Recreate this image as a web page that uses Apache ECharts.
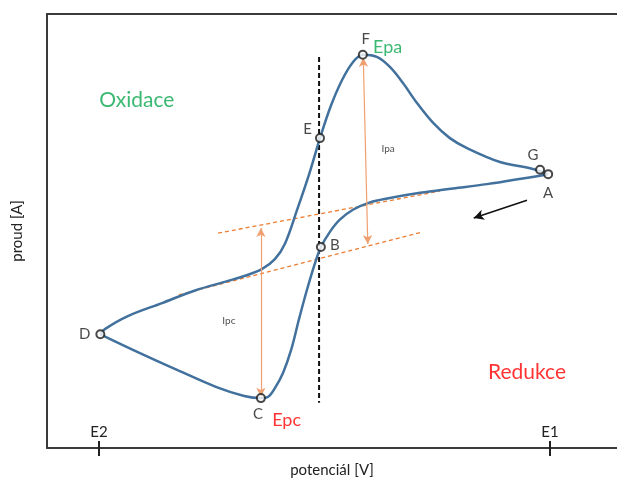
<!DOCTYPE html>
<html>
<head>
<meta charset="utf-8">
<script src="https://cdn.jsdelivr.net/npm/echarts@6/dist/echarts.min.js"></script>
<style>
html,body{margin:0;padding:0;background:#fff;}
#chart{width:617px;height:479px;}
</style>
</head>
<body>
<div id="chart"></div>
<script>
// Potential in relative units (E2 = 0, E1 = 100), current in relative units (0..100)
const xTickValues = [0, 100];
const xTickLabels = ['E2', 'E1'];

// reverse (cathodic) scan: A -> B -> C -> D
const lowerBranch = [
  [99.6,63.1],[86.0,60.8],[78.5,59.8],[71.2,58.8],[63.9,57.5],[60.1,56.6],
  [56.3,54.9],[53.4,52.6],[51.2,49.8],[49.2,46.3],[47.9,42.6],[46.1,36.4],[44.3,29.5],
  [42.6,22.6],[40.8,17.3],[39.0,13.8],[37.5,11.8],[35.9,11.5],[32.2,12.0],[25.9,14.1],
  [17.3,18.0],[8.6,22.1],[0.3,26.2]
];
// forward (anodic) scan: D -> E -> F -> G -> A
const upperBranch = [
  [0.3,26.2],[1.3,27.4],[6.4,30.4],[14.0,33.4],[21.3,36.3],[28.6,38.5],[32.4,39.7],
  [36.1,41.2],[39.0,43.5],[41.2,47.0],[43.9,54.8],[46.6,63.1],[49.0,71.4],[51.4,78.8],
  [53.9,84.8],[56.3,88.9],[58.5,90.6],[61.6,90.1],[64.5,87.8],[67.4,84.1],[70.5,79.5],
  [74.1,74.9],[77.8,71.4],[81.6,69.1],[88.9,65.9],[96.2,64.3],[99.6,63.1]
];
// marked points
const pointNames = ['A','B','C','D','E','F','G'];
const pointValues = [[99.6,63.1],[49.2,46.3],[35.9,11.5],[0.3,26.2],[49.0,71.4],[58.5,90.6],[97.8,64.1]];

// dashed vertical line at E1/2
const halfWaveLine = [[48.8,90.1],[48.8,10.4]];
// baselines (orange dashed)
const baselineUpper = [[26.4,49.5],[75.6,59.2]];
const baselineLower = [[17.7,35.3],[71.8,49.8]];
// peak current arrows
const ipcArrow = [[35.9,50.7],[35.9,11.8]];
const ipaArrow = [[58.6,89.9],[59.6,47.0]];
// scan direction arrow
const scanArrow = [[94.9,57.1],[83.1,53.0]];

// annotation texts
const annotations = [
  {text:'Oxidace', value:[8.4,80.2], color:'#0aa84f', size:21},
  {text:'Redukce', value:[94.9,17.5], color:'#ff0000', size:21},
  {text:'Epa', value:[64.0,92.4], color:'#0aa84f', size:18},
  {text:'Epc', value:[41.6,6.4], color:'#ff0000', size:18},
  {text:'Ipa', value:[64.1,68.9], color:'#222222', size:10},
  {text:'Ipc', value:[28.8,29.3], color:'#222222', size:10}
];

const FONT = 'Lato';
const labelPos = {
  A:{position:'bottom', distance:7, offset:[0,0]},
  B:{position:'right', distance:4, offset:[0,-2]},
  C:{position:'bottom', distance:4, offset:[-3,0]},
  D:{position:'left', distance:5, offset:[0,0]},
  E:{position:'left', distance:3, offset:[0,-9]},
  F:{position:'top', distance:3, offset:[3,0]},
  G:{position:'top', distance:2, offset:[-7,0]}
};

const xMin = -11.53, xMax = 114.86;
const chart = echarts.init(document.getElementById('chart'), null, {renderer:'canvas'});

const axisColor = '#3a3a3a';
const option = {
  animation:false,
  backgroundColor:'#ffffff',
  grid:{left:47, right:0, top:14, bottom:31, containLabel:false, outerBoundsMode:'none'},
  xAxis:[
    {type:'value', min:xMin, max:xMax, position:'bottom',
     axisLine:{show:true, onZero:false, lineStyle:{color:axisColor, width:2}},
     splitLine:{show:false},
     axisTick:{show:true, customValues:xTickValues, length:8, lineStyle:{color:'#222', width:2}},
     axisLabel:{show:true, inside:true, customValues:xTickValues, margin:8,
       formatter:function(v){ const i = xTickValues.indexOf(v); return i>=0 ? xTickLabels[i] : ''; },
       color:'#222', fontSize:15, fontFamily:FONT},
     name:'potenciál [V]', nameLocation:'middle', nameGap:15,
     nameTextStyle:{color:'#222', fontSize:15, fontFamily:FONT}
    },
    {type:'value', min:xMin, max:xMax, position:'bottom',
     axisLine:{show:false, onZero:false},
     splitLine:{show:false},
     axisTick:{show:true, inside:true, customValues:xTickValues, length:7, lineStyle:{color:'#222', width:2}},
     axisLabel:{show:false}
    },
    {type:'value', min:xMin, max:xMax, position:'top',
     axisLine:{show:true, onZero:false, lineStyle:{color:axisColor, width:2}},
     splitLine:{show:false}, axisTick:{show:false}, axisLabel:{show:false}
    }
  ],
  yAxis:[
    {type:'value', min:0, max:100, position:'left',
     axisLine:{show:true, onZero:false, lineStyle:{color:axisColor, width:2}},
     splitLine:{show:false}, axisTick:{show:false}, axisLabel:{show:false},
     name:'proud [A]', nameLocation:'middle', nameGap:22, nameRotate:90,
     nameTextStyle:{color:'#222', fontSize:15, fontFamily:FONT}
    }
  ],
  series:[
    {type:'line', data:baselineUpper, symbol:'none', z:2,
     lineStyle:{color:'#ed7d31', width:1.3, type:[4,3]}},
    {type:'line', data:baselineLower, symbol:'none', z:2,
     lineStyle:{color:'#ed7d31', width:1.3, type:[4,3]}},
    {type:'line', data:halfWaveLine, symbol:'none', z:2,
     lineStyle:{color:'#111', width:2, type:[5,3]}},
    {type:'line', data:lowerBranch, smooth:0.35, symbol:'none', z:3,
     lineStyle:{color:'#41719c', width:2.5}},
    {type:'line', data:upperBranch, smooth:0.35, symbol:'none', z:3,
     lineStyle:{color:'#41719c', width:2.5}},
    {type:'line', data:ipcArrow.concat(ipaArrow), symbol:'none', z:4,
     lineStyle:{opacity:0},
     markLine:{silent:true, symbol:['arrow','arrow'], symbolSize:[7,9], precision:4,
       label:{show:false}, lineStyle:{color:'#f0a070', width:1.2, type:'solid'},
       emphasis:{disabled:true},
       data:[
         [{coord:ipcArrow[0]},{coord:ipcArrow[1]}],
         [{coord:ipaArrow[0]},{coord:ipaArrow[1]}]
       ]}},
    {type:'line', data:scanArrow, symbol:'none', z:4,
     lineStyle:{opacity:0},
     markLine:{silent:true, symbol:['none','arrow'], symbolSize:[8,10], precision:4,
       label:{show:false}, lineStyle:{color:'#111', width:1.5, type:'solid'},
       emphasis:{disabled:true},
       data:[[{coord:scanArrow[0]},{coord:scanArrow[1]}]]}},
    {type:'scatter', z:6, symbol:'emptyCircle', symbolSize:8,
     itemStyle:{color:'#1a1a1a', borderWidth:1.5},
     data:pointNames.map(function(n,i){
       const p = labelPos[n];
       return {name:n, value:pointValues[i],
         label:{show:true, formatter:n, position:p.position, distance:p.distance, offset:p.offset,
           color:'#1a1a1a', fontSize:15, fontFamily:FONT}};
     })},
    {type:'scatter', z:6, symbolSize:0,
     data:annotations.map(function(a){
       return {name:a.text, value:a.value,
         label:{show:true, formatter:a.text, position:'inside', color:a.color, fontSize:a.size, fontFamily:FONT}};
     })}
  ]
};
chart.setOption(option);
</script>
</body>
</html>
